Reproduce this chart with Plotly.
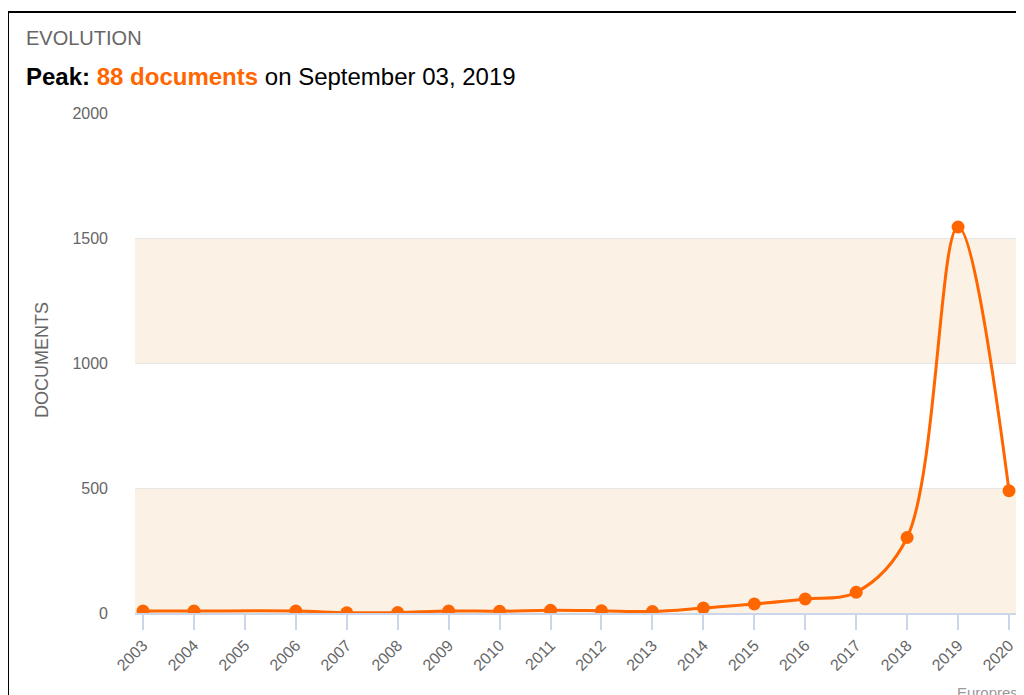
import plotly.graph_objects as go

# ---- data ----
years = [2003, 2004, 2006, 2007, 2008, 2009, 2010, 2011, 2012, 2013,
         2014, 2015, 2016, 2017, 2018, 2019, 2020]
documents = [8, 8, 8, 1, 2, 8, 7, 11, 9, 6, 20, 36, 56, 83, 302, 1544, 489]
tick_years = list(range(2003, 2021))
tick_labels = [str(y) for y in tick_years]
y_ticks = [0, 500, 1000, 1500, 2000]

ORANGE = "#ff6600"
FONT = "Liberation Sans, Arial, sans-serif"

# the page body has an 8px margin: work in screen pixels, shift by OFF
OFF = 8
W, H = 1024 - OFF, 695 - OFF
L, R, T, B = 135 - OFF, 1020 - OFF, 113 - OFF, 613 - OFF


def px(x):
    return (x - OFF - L) / (R - L)


def py(y):
    return (B - (y - OFF)) / (B - T)


fig = go.Figure()
fig.add_trace(go.Scatter(
    x=years, y=documents, mode="lines+markers",
    line=dict(color=ORANGE, width=3, shape="spline", smoothing=1.0),
    marker=dict(color=ORANGE, size=13),
    hoverinfo="x+y", showlegend=False,
))

shapes = []
# alternating plot bands
for y0, y1 in [(0, 500), (1000, 1500)]:
    shapes.append(dict(type="rect", xref="paper", yref="y", x0=0, x1=1, y0=y0, y1=y1,
                       fillcolor="#fcf1e5", line=dict(width=0), layer="below"))
# outer frame
shapes.append(dict(type="rect", xref="paper", yref="paper",
                   x0=px(8), x1=px(1040), y0=py(12), y1=py(710),
                   line=dict(color="#000000", width=2), fillcolor="rgba(0,0,0,0)", layer="above"))

annotations = [
    dict(text="EVOLUTION", xref="paper", yref="paper", x=px(24), y=py(25),
         xanchor="left", yanchor="top", showarrow=False,
         font=dict(family=FONT, size=20, color="#666666")),
    dict(text="<b>Peak:</b> <b><span style='color:%s'>88 documents</span></b> on September 03, 2019" % ORANGE,
         xref="paper", yref="paper", x=px(24), y=py(61),
         xanchor="left", yanchor="top", showarrow=False,
         font=dict(family=FONT, size=24, color="#000000")),
    dict(text="DOCUMENTS", xref="paper", yref="paper", x=px(42), y=py(360),
         xanchor="center", yanchor="middle", textangle=-90, showarrow=False,
         font=dict(family=FONT, size=18, color="#666666")),
    dict(text="Europress.com", xref="paper", yref="paper", x=px(955), y=py(682),
         xanchor="left", yanchor="top", showarrow=False,
         font=dict(family=FONT, size=15, color="#999999")),
]

fig.update_layout(
    width=W, height=H,
    margin=dict(l=L, r=W - R, t=T, b=H - B, pad=0),
    paper_bgcolor="#ffffff", plot_bgcolor="#ffffff",
    font=dict(family=FONT, color="#666666"),
    shapes=shapes, annotations=annotations,
    xaxis=dict(
        range=[2003 - 8 / 50.94, 2020 + 11 / 50.94],
        tickvals=tick_years, ticktext=tick_labels, tickangle=-45,
        tickfont=dict(family=FONT, size=16, color="#666666"),
        showgrid=False, zeroline=False,
        showline=True, linecolor="#ccd6eb", linewidth=1.5,
        ticks="outside", ticklen=15, tickcolor="#ccd6eb", tickwidth=1.5,
        fixedrange=True,
    ),
    yaxis=dict(
        range=[0, 2000], tickvals=y_ticks, ticktext=[str(v) for v in y_ticks],
        tickfont=dict(family=FONT, size=16, color="#666666"),
        showgrid=True, gridcolor="#e6e6e6", gridwidth=1,
        zeroline=False, showline=False, ticks="", ticklabelstandoff=26,
        fixedrange=True,
    ),
)

fig.write_html("out.html")
